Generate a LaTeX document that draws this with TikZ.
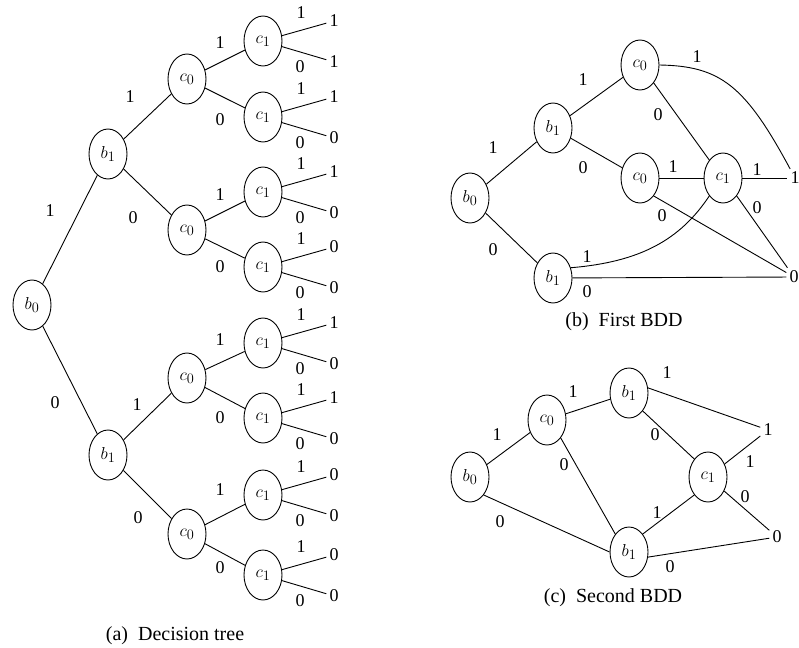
\documentclass[tikz,border=0pt]{standalone}
\usepackage{fontspec}
\setmainfont{Liberation Serif}
\usetikzlibrary{shapes.geometric}
\begin{document}
\begin{tikzpicture}[x=1pt,y=-1pt,
  var/.style={draw, ellipse, minimum width=38pt, minimum height=50pt,
    inner sep=0pt, line width=0.9pt, font=\fontsize{19}{19}\selectfont},
  term/.style={inner sep=3pt, font=\fontsize{18}{18}\selectfont},
  lbl/.style={inner sep=0pt, font=\fontsize{18}{18}\selectfont},
  captext/.style={inner sep=0pt, font=\fontsize{20}{20}\selectfont},
  edge/.style={line width=0.9pt}]
\useasboundingbox (0,0) rectangle (799,647);

% ---------------- (a) decision tree ----------------
\node[var] (t-b0) at (32,305) {$b_0$};
\node[var] (t-b1a) at (108,154) {$b_1$};
\node[var] (t-b1b) at (108,455) {$b_1$};
\node[var] (t-c0a) at (187,79) {$c_0$};
\node[var] (t-c0b) at (187,230) {$c_0$};
\node[var] (t-c0c) at (187,378) {$c_0$};
\node[var] (t-c0d) at (187,534) {$c_0$};

\draw[edge] (t-b0) -- (t-b1a) node[lbl] at (50,211) {1};
\draw[edge] (t-b0) -- (t-b1b) node[lbl] at (55,403) {0};
\draw[edge] (t-b1a) -- (t-c0a) node[lbl] at (130,97) {1};
\draw[edge] (t-b1a) -- (t-c0b) node[lbl] at (133,218) {0};
\draw[edge] (t-b1b) -- (t-c0c) node[lbl] at (137,405) {1};
\draw[edge] (t-b1b) -- (t-c0d) node[lbl] at (138,518) {0};

% third level and the leaves: index / y / parent / branch label / its y / high leaf / low leaf
\foreach \i/\y/\p/\b/\by/\hi/\lo in {
    1/41/t-c0a/1/43/1/1, 2/117/t-c0a/0/120/1/0,
    3/192/t-c0b/1/195/1/0, 4/267/t-c0b/0/267/0/0,
    5/343/t-c0c/1/340/1/0, 6/418/t-c0c/0/418/1/0,
    7/495/t-c0d/1/490/0/0, 8/575/t-c0d/0/568/0/0} {
  \node[var] (t-c1-\i) at (263,\y) {$c_1$};
  \draw[edge] (\p) -- (t-c1-\i) node[lbl] at (220,\by) {\b};
  \node[term] (t-hi-\i) at (334,\y-20) {\hi};
  \node[term] (t-lo-\i) at (334,\y+21) {\lo};
  \draw[edge] (t-c1-\i) -- (t-hi-\i) node[lbl] at (301,\y-28) {1};
  \draw[edge] (t-c1-\i) -- (t-lo-\i) node[lbl] at (300,\y+26) {0};
}
\node[captext] (cap-a) at (175,636) {(a)\enspace Decision tree};

% ---------------- (b) first BDD ----------------
\node[var] (f-b0) at (470,198) {$b_0$};
\node[var] (f-b1u) at (553,128) {$b_1$};
\node[var] (f-b1l) at (553,278) {$b_1$};
\node[var] (f-c0t) at (640,65) {$c_0$};
\node[var] (f-c0m) at (640,178) {$c_0$};
\node[var] (f-c1) at (723,178) {$c_1$};
\node[term] (f-one) at (795,178) {1};
\node[term] (f-zero) at (794,277) {0};

\draw[edge] (f-b0) -- (f-b1u) node[lbl] at (493,148) {1};
\draw[edge] (f-b0) -- (f-b1l) node[lbl] at (493,250) {0};
\draw[edge] (f-b1u) -- (f-c0t) node[lbl] at (583,80) {1};
\draw[edge] (f-b1u) -- (f-c0m) node[lbl] at (583,168) {0};
\draw[edge] (f-c0t.east) .. controls (720,66) and (745,85) .. (f-one)
  node[lbl] at (697,57) {1};
\draw[edge] (f-c0t.south east) -- (f-c1.north west) node[lbl] at (658,115) {0};
\draw[edge] (f-c0m) -- (f-c1) node[lbl] at (673,167) {1};
\draw[edge] (f-c0m.south east) -- (f-zero) node[lbl] at (662,216) {0};
\draw[edge] (f-c1) -- (f-one) node[lbl] at (757,170) {1};
\draw[edge] (f-c1.south east) -- (f-zero) node[lbl] at (757,208) {0};
\draw[edge] (f-b1l.30) .. controls (640,262) and (680,240) .. (f-c1.south west)
  node[lbl] at (587,257) {1};
\draw[edge] (f-b1l) -- (f-zero) node[lbl] at (587,292) {0};
\node[captext] (cap-b) at (624,322) {(b)\enspace First BDD};

% ---------------- (c) second BDD ----------------
\node[var] (s-b0) at (470,477) {$b_0$};
\node[var] (s-c0) at (547,420) {$c_0$};
\node[var] (s-b1t) at (629,393) {$b_1$};
\node[var] (s-b1b) at (629,552) {$b_1$};
\node[var] (s-c1) at (708,477) {$c_1$};
\node[term] (s-one) at (768,430) {1};
\node[term] (s-zero) at (777,537) {0};

\draw[edge] (s-b0) -- (s-c0) node[lbl] at (497,435) {1};
\draw[edge] (s-b0.south east) -- (s-b1b.west) node[lbl] at (500,522) {0};
\draw[edge] (s-c0) -- (s-b1t) node[lbl] at (573,392) {1};
\draw[edge] (s-c0.south east) -- (s-b1b.north west) node[lbl] at (564,465) {0};
\draw[edge] (s-b1t.15) -- (s-one) node[lbl] at (667,373) {1};
\draw[edge] (s-b1t.south east) -- (s-c1.north west) node[lbl] at (655,435) {0};
\draw[edge] (s-b1b.north east) -- (s-c1.south west) node[lbl] at (657,513) {1};
\draw[edge] (s-b1b.-15) -- (s-zero) node[lbl] at (670,567) {0};
\draw[edge] (s-c1) -- (s-one) node[lbl] at (750,462) {1};
\draw[edge] (s-c1) -- (s-zero) node[lbl] at (745,497) {0};
\node[captext] (cap-c) at (613,598) {(c)\enspace Second BDD};
\end{tikzpicture}
\end{document}
